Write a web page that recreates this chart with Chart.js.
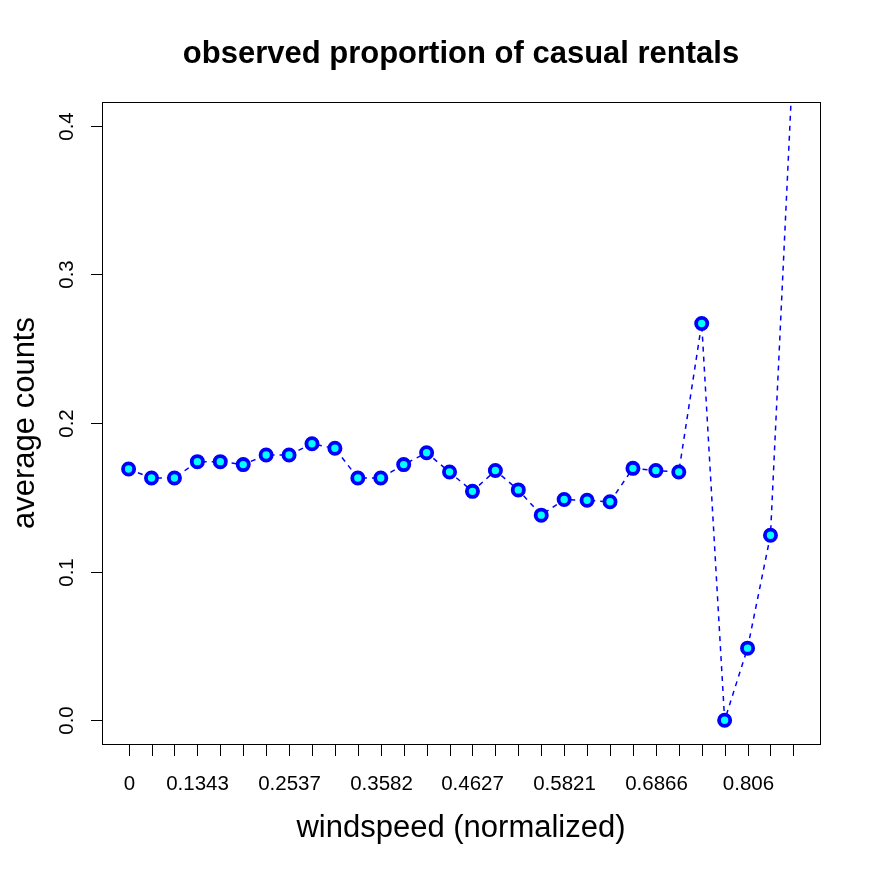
<!DOCTYPE html>
<html>
<head>
<meta charset="utf-8">
<script src="https://cdn.jsdelivr.net/npm/chart.js@4/dist/chart.umd.min.js"></script>
<style>
  html, body { margin: 0; padding: 0; background: #fff; }
</style>
</head>
<body>
<canvas id="chart" width="872" height="872"></canvas>
<script>
(() => {
    'use strict'

    // unique normalized windspeed values (categories)
    const windspeed = ['0', '0.0896', '0.1045', '0.1343', '0.1642', '0.194', '0.2239', '0.2537', '0.2836', '0.2985',
        '0.3284', '0.3582', '0.3881', '0.4179', '0.4478', '0.4627', '0.4925', '0.5224', '0.5522', '0.5821',
        '0.6119', '0.6418', '0.6567', '0.6866', '0.7164', '0.7463', '0.7761', '0.806', '0.8358', '0.8507']
    // observed proportion of casual rentals per windspeed
    const casualProp = [0.169, 0.163, 0.163, 0.174, 0.174, 0.172, 0.1785, 0.1785, 0.186, 0.183,
        0.163, 0.163, 0.172, 0.180, 0.167, 0.154, 0.168, 0.155, 0.138, 0.1485,
        0.148, 0.147, 0.1695, 0.168, 0.167, 0.267, 0, 0.0485, 0.1245, 0.45]
    // labels R kept after dropping overlapping ones
    const shownLabels = ['0', '0.1343', '0.2537', '0.3582', '0.4627', '0.5821', '0.6866', '0.806']
    const yTicks = [0, 0.1, 0.2, 0.3, 0.4]

    const FONT = '"Liberation Sans", Arial, Helvetica, sans-serif'
    const Y_MIN = 0, Y_MAX = 0.4
    const yPad = (Y_MAX - Y_MIN) * 0.04
    const xPad = (windspeed.length - 1) * 0.04

    const rAxes = {
        id: 'rAxes',
        afterDraw(chart) {
            const ctx = chart.ctx
            const area = chart.chartArea
            const xs = chart.scales.x
            const ys = chart.scales.y
            ctx.save()
            ctx.strokeStyle = '#000'
            ctx.fillStyle = '#000'
            ctx.lineWidth = 1
            ctx.strokeRect(Math.round(area.left) + 0.5, Math.round(area.top) + 0.5,
                Math.round(area.right - area.left), Math.round(area.bottom - area.top))

            // x axis
            ctx.font = '20.5px ' + FONT
            ctx.textAlign = 'center'
            ctx.textBaseline = 'alphabetic'
            windspeed.forEach((lab, i) => {
                const px = Math.round(xs.getPixelForValue(i)) + 0.5
                ctx.beginPath()
                ctx.moveTo(px, area.bottom + 1)
                ctx.lineTo(px, area.bottom + 12)
                ctx.stroke()
                if (shownLabels.includes(lab)) {
                    ctx.fillText(lab, px, area.bottom + 46)
                }
            })

            // y axis
            yTicks.forEach((v) => {
                const py = Math.round(ys.getPixelForValue(v)) + 0.5
                ctx.beginPath()
                ctx.moveTo(area.left - 11, py)
                ctx.lineTo(area.left, py)
                ctx.stroke()
                ctx.save()
                ctx.translate(area.left - 29, py)
                ctx.rotate(-Math.PI / 2)
                ctx.textAlign = 'center'
                ctx.fillText(v.toFixed(1), 0, 0)
                ctx.restore()
            })

            // titles
            ctx.font = 'bold 31px ' + FONT
            ctx.textAlign = 'center'
            ctx.fillText('observed proportion of casual rentals', (area.left + area.right) / 2, 63)

            ctx.font = '31px ' + FONT
            ctx.fillText('windspeed (normalized)', (area.left + area.right) / 2, 837)

            ctx.save()
            ctx.translate(34, (area.top + area.bottom) / 2)
            ctx.rotate(-Math.PI / 2)
            ctx.fillText('average counts', 0, 0)
            ctx.restore()
            ctx.restore()
        },
    }

    new Chart(document.getElementById('chart'), {
        type: 'line',
        data: {
            labels: windspeed,
            datasets: [
                {
                    data: casualProp.map((v, i) => ({ x: i, y: v })),
                    borderColor: '#0000ff',
                    borderWidth: 1.5,
                    borderDash: [5, 5],
                    pointRadius: 5.6,
                    pointBorderWidth: 3.8,
                    pointBorderColor: '#0000ff',
                    pointBackgroundColor: '#00ffff',
                    tension: 0,
                    fill: false,
                },
            ],
        },
        options: {
            responsive: false,
            animation: false,
            events: [],
            layout: {
                padding: { left: 102, top: 102, right: 52, bottom: 128 },
            },
            plugins: {
                legend: { display: false },
                tooltip: { enabled: false },
            },
            scales: {
                x: {
                    type: 'linear',
                    display: false,
                    min: -xPad,
                    max: windspeed.length - 1 + xPad,
                },
                y: {
                    display: false,
                    min: Y_MIN - yPad,
                    max: Y_MAX + yPad,
                },
            },
        },
        plugins: [rAxes],
    })
})()
</script>
</body>
</html>
